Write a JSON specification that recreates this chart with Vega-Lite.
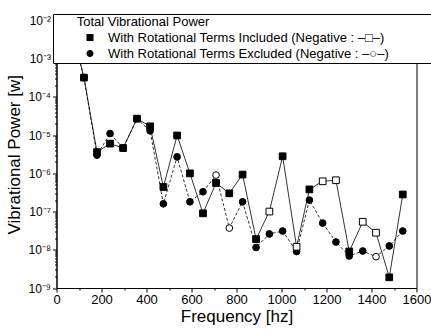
{
  "$schema": "https://vega.github.io/schema/vega-lite/v6.json",
  "width": 360,
  "height": 267.5,
  "autosize": {"type": "none"},
  "padding": {"left": 56.5, "top": 20.5, "right": 14.5, "bottom": 42},
  "background": "white",
  "config": {
    "font": "Liberation Sans",
    "view": {"stroke": "black", "strokeWidth": 1},
    "axis": {"grid": false, "domainColor": "black", "tickColor": "black", "labelColor": "black", "titleColor": "black", "titleFontWeight": "normal", "labelFont": "Liberation Sans", "titleFont": "Liberation Sans"}
  },
  "data": {
    "values": [
      {"f": 63, "v": 8e-3, "s": "exc", "sg": "pos"},
      {"f": 122, "v": 3.2e-4, "s": "exc", "sg": "pos"},
      {"f": 180, "v": 3e-6, "s": "exc", "sg": "pos"},
      {"f": 238, "v": 1.1e-5, "s": "exc", "sg": "pos"},
      {"f": 296, "v": 4.6e-6, "s": "exc", "sg": "pos"},
      {"f": 358, "v": 2.7e-5, "s": "exc", "sg": "pos"},
      {"f": 416, "v": 1.3e-5, "s": "exc", "sg": "pos"},
      {"f": 475, "v": 1.6e-7, "s": "exc", "sg": "pos"},
      {"f": 536, "v": 2.7e-6, "s": "exc", "sg": "pos"},
      {"f": 593, "v": 1.8e-7, "s": "exc", "sg": "pos"},
      {"f": 651, "v": 3.3e-7, "s": "exc", "sg": "pos"},
      {"f": 709, "v": 9e-7, "s": "exc", "sg": "neg"},
      {"f": 768, "v": 3.7e-8, "s": "exc", "sg": "neg"},
      {"f": 827, "v": 1.8e-7, "s": "exc", "sg": "pos"},
      {"f": 887, "v": 1.15e-8, "s": "exc", "sg": "pos"},
      {"f": 946, "v": 2.6e-8, "s": "exc", "sg": "pos"},
      {"f": 1005, "v": 3.1e-8, "s": "exc", "sg": "pos"},
      {"f": 1067, "v": 9e-9, "s": "exc", "sg": "pos"},
      {"f": 1124, "v": 2e-7, "s": "exc", "sg": "pos"},
      {"f": 1183, "v": 5e-8, "s": "exc", "sg": "pos"},
      {"f": 1242, "v": 1.6e-8, "s": "exc", "sg": "pos"},
      {"f": 1301, "v": 6.9e-9, "s": "exc", "sg": "pos"},
      {"f": 1361, "v": 9.3e-9, "s": "exc", "sg": "pos"},
      {"f": 1420, "v": 6.6e-9, "s": "exc", "sg": "neg"},
      {"f": 1479, "v": 1.26e-8, "s": "exc", "sg": "pos"},
      {"f": 1539, "v": 3.1e-8, "s": "exc", "sg": "pos"},
      {"f": 63, "v": 8e-3, "s": "inc", "sg": "pos"},
      {"f": 122, "v": 3.2e-4, "s": "inc", "sg": "pos"},
      {"f": 180, "v": 3.6e-6, "s": "inc", "sg": "pos"},
      {"f": 238, "v": 6e-6, "s": "inc", "sg": "pos"},
      {"f": 296, "v": 4.6e-6, "s": "inc", "sg": "pos"},
      {"f": 358, "v": 2.7e-5, "s": "inc", "sg": "pos"},
      {"f": 416, "v": 1.7e-5, "s": "inc", "sg": "pos"},
      {"f": 475, "v": 4.4e-7, "s": "inc", "sg": "pos"},
      {"f": 536, "v": 9.8e-6, "s": "inc", "sg": "pos"},
      {"f": 593, "v": 1e-6, "s": "inc", "sg": "pos"},
      {"f": 651, "v": 9e-8, "s": "inc", "sg": "pos"},
      {"f": 709, "v": 5.6e-7, "s": "inc", "sg": "pos"},
      {"f": 768, "v": 3e-7, "s": "inc", "sg": "pos"},
      {"f": 827, "v": 9.3e-7, "s": "inc", "sg": "pos"},
      {"f": 887, "v": 1.9e-8, "s": "inc", "sg": "pos"},
      {"f": 946, "v": 1.0e-7, "s": "inc", "sg": "neg"},
      {"f": 1005, "v": 2.8e-6, "s": "inc", "sg": "pos"},
      {"f": 1067, "v": 1.2e-8, "s": "inc", "sg": "neg"},
      {"f": 1124, "v": 3.8e-7, "s": "inc", "sg": "pos"},
      {"f": 1183, "v": 6.2e-7, "s": "inc", "sg": "neg"},
      {"f": 1242, "v": 6.6e-7, "s": "inc", "sg": "neg"},
      {"f": 1301, "v": 9e-9, "s": "inc", "sg": "pos"},
      {"f": 1361, "v": 5.4e-8, "s": "inc", "sg": "neg"},
      {"f": 1420, "v": 2.8e-8, "s": "inc", "sg": "neg"},
      {"f": 1479, "v": 1.9e-9, "s": "inc", "sg": "pos"},
      {"f": 1539, "v": 2.8e-7, "s": "inc", "sg": "pos"}
    ]
  },
  "encoding": {
    "x": {
      "field": "f", "type": "quantitative",
      "scale": {"domain": [0, 1600], "nice": false, "zero": false},
      "axis": {
        "title": "Frequency [hz]", "titleFontSize": 17, "titlePadding": 2,
        "values": [0, 100, 200, 300, 400, 500, 600, 700, 800, 900, 1000, 1100, 1200, 1300, 1400, 1500, 1600],
        "labelExpr": "datum.value % 200 === 0 ? '' + datum.value : ''",
        "labelFontSize": 13, "labelPadding": 1, "labelFlush": false, "labelOverlap": false,
        "tickSize": {"condition": {"test": "datum.value % 200 === 0", "value": 4}, "value": 2}
      }
    },
    "y": {
      "field": "v", "type": "quantitative",
      "scale": {"type": "log", "domain": [1e-9, 1e-2], "nice": false},
      "axis": {
        "title": "Vibrational Power [w]", "titleFontSize": 17, "titlePadding": 4,
        "values": [1e-9, 2e-9, 3e-9, 4e-9, 5e-9, 6e-9, 7e-9, 8e-9, 9e-9, 1e-8, 2e-8, 3e-8, 4e-8, 5e-8, 6e-8, 7e-8, 8e-8, 9e-8, 1e-7, 2e-7, 3e-7, 4e-7, 5e-7, 6e-7, 7e-7, 8e-7, 9e-7, 1e-6, 2e-6, 3e-6, 4e-6, 5e-6, 6e-6, 7e-6, 8e-6, 9e-6, 1e-5, 2e-5, 3e-5, 4e-5, 5e-5, 6e-5, 7e-5, 8e-5, 9e-5, 1e-4, 2e-4, 3e-4, 4e-4, 5e-4, 6e-4, 7e-4, 8e-4, 9e-4, 1e-3, 2e-3, 3e-3, 4e-3, 5e-3, 6e-3, 7e-3, 8e-3, 9e-3, 1e-2],
        "labelExpr": "abs(log(datum.value)/LN10 - round(log(datum.value)/LN10)) < 1e-6 ? '10⁻' + ['⁰','¹','²','³','⁴','⁵','⁶','⁷','⁸','⁹'][-round(log(datum.value)/LN10)] : ''",
        "labelFontSize": 12, "labelPadding": 2, "labelFlush": false, "labelOverlap": false,
        "tickSize": {"condition": {"test": "abs(log(datum.value)/LN10 - round(log(datum.value)/LN10)) < 1e-6", "value": 4}, "value": 2}
      }
    }
  },
  "resolve": {"scale": {"shape": "independent"}},
  "layer": [
    {
      "transform": [{"filter": "datum.s === 'inc'"}],
      "mark": {"type": "line", "color": "black", "strokeWidth": 0.8},
      "encoding": {}
    },
    {
      "transform": [{"filter": "datum.s === 'exc'"}],
      "mark": {"type": "line", "color": "black", "strokeWidth": 0.8, "strokeDash": [3, 2]},
      "encoding": {}
    },
    {
      "mark": {"type": "point", "filled": true, "stroke": "black", "strokeWidth": 1, "size": 45, "opacity": 1},
      "encoding": {
        "fill": {"field": "sg", "type": "nominal", "scale": {"domain": ["pos", "neg"], "range": ["black", "white"]}, "legend": null},
        "shape": {"field": "s", "type": "nominal", "scale": {"domain": ["inc", "exc"], "range": ["square", "circle"]}, "legend": null}
      }
    },
    {
      "mark": {"type": "point", "filled": false, "fill": "black", "stroke": "black", "strokeWidth": 1, "size": 100, "opacity": 0},
      "encoding": {
        "shape": {
          "field": "s", "type": "nominal",
          "scale": {"domain": ["inc", "exc"], "range": ["M-2.3,0H2.3M-0.7,-0.7H0.7V0.7H-0.7Z", "M-2.3,0H2.3M-0.7,0A0.7,0.7 0 1,0 0.7,0A0.7,0.7 0 1,0 -0.7,0Z"]},
          "legend": {
            "orient": "none", "legendX": -3.5, "legendY": -6.5,
            "title": "\u200b\u00a0\u00a0\u00a0\u00a0\u00a0\u00a0Total Vibrational Power",
            "titleFontSize": 13, "titleFontWeight": "normal", "titleColor": "black", "titlePadding": 2,
            "labelFontSize": 13, "labelColor": "black", "labelLimit": 0,
            "labelExpr": "datum.value === 'inc' ? 'With Rotational Terms Included (Negative : –□–)\u00a0\u00a0\u00a0\u00a0\u00a0\u00a0\u00a0\u00a0\u00a0\u00a0\u00a0\u200b' : 'With Rotational Terms Excluded (Negative : –○–)\u00a0\u00a0\u00a0\u00a0\u00a0\u00a0\u00a0\u00a0\u00a0\u00a0\u00a0\u200b'",
            "padding": 2, "fillColor": "white", "strokeColor": "black",
            "symbolSize": 100, "symbolOffset": 28.5, "labelOffset": 11.5, "rowPadding": 2,
            "symbolOpacity": 1, "symbolStrokeWidth": 1, "symbolFillColor": "black", "symbolStrokeColor": "black"
          }
        }
      }
    }
  ]
}
